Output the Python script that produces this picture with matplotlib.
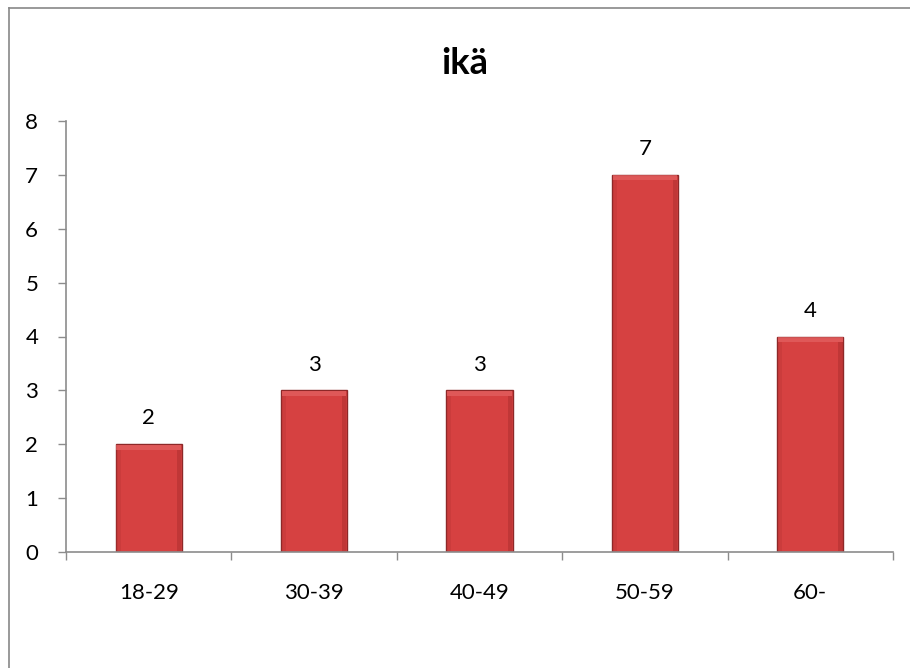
import numpy as np
import matplotlib.pyplot as plt
from matplotlib.lines import Line2D

plt.rcParams['font.family'] = ['Lato', 'DejaVu Sans']

categories = ['18-29', '30-39', '40-49', '50-59', '60-']
values = [2, 3, 3, 7, 4]
yticks = [0, 1, 2, 3, 4, 5, 6, 7, 8]

FS = 16
AX = '#8c8c8c'

fig = plt.figure(figsize=(9.1, 6.68), dpi=100)
ax = fig.add_axes([66/910, 1-552/668, (893-66)/910, (552-121)/668])

x = np.arange(len(categories))
bars = ax.bar(x, values, width=0.4, color='#d64141', edgecolor='#8e2828', linewidth=1.0, zorder=2)

# soft bevel: light top band, darker sides
for b in bars:
    x0, w, h = b.get_x(), b.get_width(), b.get_height()
    ax.fill_between([x0 + 0.005, x0 + w - 0.005], h - 0.1, h - 0.01, color='#e46363', alpha=0.7, zorder=3, lw=0)
    ax.fill_between([x0 + 0.005, x0 + 0.03], 0.01, h - 0.1, color='#b83333', alpha=0.35, zorder=3, lw=0)
    ax.fill_between([x0 + w - 0.03, x0 + w - 0.005], 0.01, h - 0.1, color='#a62c2c', alpha=0.45, zorder=3, lw=0)

for xi, v in zip(x, values):
    ax.text(xi, v + 0.48, str(v), ha='center', va='center', fontsize=FS, color='black')

ax.set_xlim(-0.5, len(categories) - 0.5)
ax.set_ylim(0, 8)
ax.set_yticks(yticks)
ax.set_yticklabels([str(t) for t in yticks], fontsize=FS)
ax.set_xticks(x)
ax.set_xticklabels(categories, fontsize=FS)
ax.set_xticks(np.arange(-0.5, len(categories)), minor=True)
ax.tick_params(axis='x', which='major', length=0, pad=22)
ax.tick_params(axis='x', which='minor', length=6, color=AX, width=1)
ax.tick_params(axis='y', length=6, color=AX, width=1, pad=14)

for s in ['top', 'right']:
    ax.spines[s].set_visible(False)
for s in ['left', 'bottom']:
    ax.spines[s].set_color(AX)
    ax.spines[s].set_linewidth(1.2)

fig.text(465/910, 1-64/668, 'ikä', ha='center', va='center', fontsize=26, fontweight='bold')

# chart-area border (top and left edges visible)
fig.add_artist(Line2D([9/910, 1], [1-8/668, 1-8/668], color='#888888', lw=1.2, transform=fig.transFigure))
fig.add_artist(Line2D([9/910, 9/910], [0, 1-8/668], color='#888888', lw=1.2, transform=fig.transFigure))

fig.savefig('out.png', dpi=100)
